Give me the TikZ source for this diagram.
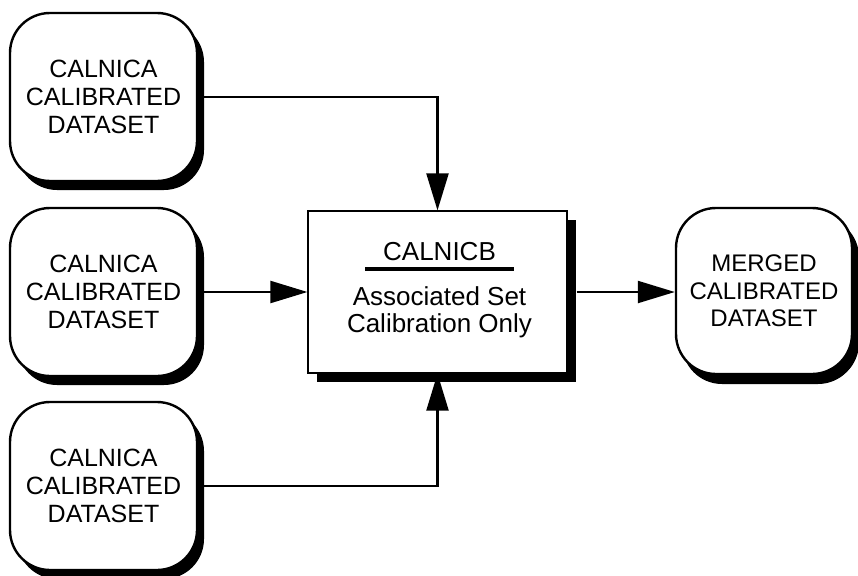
\documentclass[tikz,border=0pt]{standalone}
\usepackage{fontspec}
\setmainfont{Liberation Sans}
\usetikzlibrary{arrows.meta,shadows}
\begin{document}
\begin{tikzpicture}[x=1pt,y=-1pt,
  dsbox/.style={draw, line width=2.4pt, fill=white, rounded corners=40pt,
    minimum width=187pt, minimum height=168pt, align=center, inner sep=0pt,
    font=\fontsize{25}{28}\selectfont,
    drop shadow={shadow xshift=7pt, shadow yshift=-9pt, fill=black, opacity=1}},
  procbox/.style={draw, line width=1.2pt, fill=white, minimum width=259pt,
    minimum height=162pt, inner sep=0pt,
    drop shadow={shadow xshift=9pt, shadow yshift=-9pt, fill=black, opacity=1}},
  boxtext/.style={font=\fontsize{26}{27}\selectfont, align=center, inner sep=0pt},
  arr/.style={line width=2.2pt, -{Triangle[length=37pt, width=22pt]}}
]
\useasboundingbox (0,0) rectangle (858,575);
\node[dsbox] (t) at (103.5,97) {CALNICA\\CALIBRATED\\DATASET};
\node[dsbox] (m) at (103.5,292) {CALNICA\\CALIBRATED\\DATASET};
\node[dsbox] (b) at (103.5,486) {CALNICA\\CALIBRATED\\DATASET};
\node[procbox] (c) at (437.5,292) {};
\node[boxtext, anchor=base] (ct) at (439.5,260) {CALNICB};
\node[boxtext, anchor=base] (cd) at (439.5,332) {Associated Set\\Calibration Only};
\coordinate (ul1) at (365,269);
\coordinate (ul2) at (514,269);
\draw[line width=4pt] (ul1) -- (ul2);
\node[dsbox, minimum width=176pt, minimum height=166pt,
  font=\fontsize{24}{27.5}\selectfont,
  drop shadow={shadow xshift=6pt, shadow yshift=-10pt, fill=black, opacity=1}]
  (r) at (764,291) {MERGED\\CALIBRATED\\DATASET};
\draw[arr] (t.east) -| (c.north);
\draw[arr] (m.east) -- (m.east -| c.west);
\draw[arr] (b.east) -| (c.south);
\draw[arr] ([xshift=9pt]c.east) -- (c.east -| r.west);
\end{tikzpicture}
\end{document}
